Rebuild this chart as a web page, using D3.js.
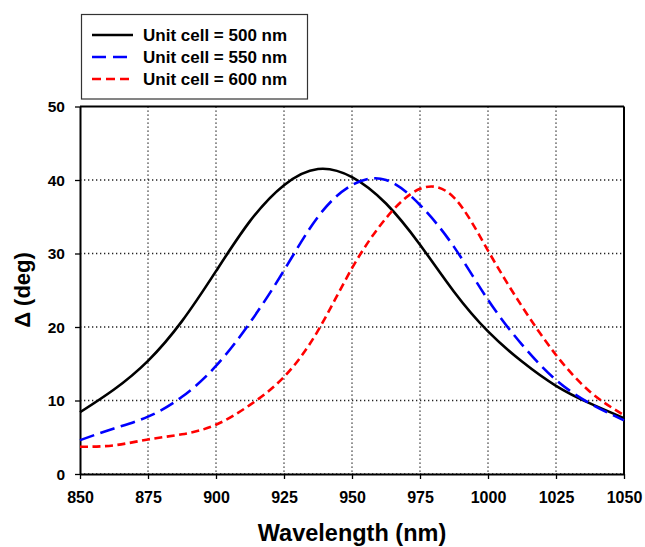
<!DOCTYPE html>
<html><head><meta charset="utf-8">
<script src="https://cdn.jsdelivr.net/npm/d3@7"></script>
<style>
body{margin:0;background:#fff;}
svg{display:block;font-family:"Liberation Sans",Arial,sans-serif;}
</style></head>
<body>
<svg id="chart" width="645" height="547"></svg>
<script>
// ---- data ----
const wavelengths = [850, 862.5, 875, 887.5, 900, 912.5, 925, 937.5, 950, 962.5, 975, 987.5, 1000, 1012.5, 1025, 1037.5, 1050];
const delta500 = [8.4, 11.5, 15.4, 20.8, 27.6, 34.4, 39.3, 41.5, 40.4, 36.8, 31.2, 24.8, 19.4, 15.3, 12.0, 9.6, 7.6];
const delta550 = [4.6, 6.2, 7.8, 10.5, 14.7, 20.6, 27.7, 35.0, 39.3, 40.0, 36.6, 30.9, 23.7, 17.6, 12.8, 9.6, 7.3];
const delta600 = [3.7, 3.9, 4.7, 5.4, 6.7, 9.4, 13.2, 19.5, 28.0, 34.8, 38.8, 37.6, 30.4, 22.8, 16.2, 11.2, 8.0];
const seriesNames = ["Unit cell = 500 nm", "Unit cell = 550 nm", "Unit cell = 600 nm"];
const xTicks = [850, 875, 900, 925, 950, 975, 1000, 1025, 1050];
const yTicks = [0, 10, 20, 30, 40, 50];

// ---- layout ----
const svg = d3.select("#chart");
const L = 80, R = 624, T = 106.5, B = 474;
const x = d3.scaleLinear().domain([850, 1050]).range([L, R]);
const y = d3.scaleLinear().domain([0, 50]).range([B, T]);

// grid
const grid = svg.append("g").attr("stroke", "#222").attr("stroke-width", 1.3).attr("stroke-dasharray", "1.3,2.7");
grid.selectAll(".gx").data(xTicks.slice(1, -1)).join("line")
  .attr("x1", d => x(d)).attr("x2", d => x(d)).attr("y1", T).attr("y2", B);
grid.selectAll(".gy").data(yTicks.slice(0, -1)).join("line")
  .attr("x1", L).attr("x2", R).attr("y1", d => y(d)).attr("y2", d => y(d));

// frame top/right
svg.append("line").attr("x1", L).attr("x2", R).attr("y1", T).attr("y2", T).attr("stroke", "#000").attr("stroke-width", 2);
svg.append("line").attr("x1", R).attr("x2", R).attr("y1", T).attr("y2", B).attr("stroke", "#000").attr("stroke-width", 2);

// axes
const xAxis = svg.append("g").attr("transform", `translate(0,${B})`)
  .call(d3.axisBottom(x).tickValues(xTicks).tickFormat(d3.format("d")).tickSize(5).tickPadding(13).tickSizeOuter(0));
const yAxis = svg.append("g").attr("transform", `translate(${L},0)`)
  .call(d3.axisLeft(y).tickValues(yTicks).tickFormat(d3.format("d")).tickSize(5).tickPadding(10).tickSizeOuter(0));
[xAxis, yAxis].forEach(a => {
  a.select(".domain").attr("stroke", "#000").attr("stroke-width", 2);
  a.selectAll(".tick line").attr("stroke", "#000").attr("stroke-width", 1.3);
  a.selectAll("text").attr("font-family", "Liberation Sans, Arial, sans-serif")
    .attr("font-weight", "bold").attr("fill", "#000");
});
xAxis.selectAll("text").attr("font-size", 16);
yAxis.selectAll("text").attr("font-size", 15.5).attr("dy", "0.34em");

// axis titles
svg.append("text").attr("x", (L + R) / 2).attr("y", 541).attr("text-anchor", "middle")
  .attr("font-size", 23.5).attr("font-weight", "bold").text("Wavelength (nm)");
svg.append("text").attr("transform", "translate(30,290) rotate(-90)").attr("text-anchor", "middle")
  .attr("font-size", 22).attr("font-weight", "bold").text("Δ (deg)");

// lines
const series = [
  {ys: delta500, color: "#000", dash: null},
  {ys: delta550, color: "#0000ff", dash: "15,6.5"},
  {ys: delta600, color: "#ff0000", dash: "8,4.5"}
];
const line = d3.line().x(d => x(d[0])).y(d => y(d[1])).curve(d3.curveNatural);
series.forEach(s => {
  svg.append("path").datum(wavelengths.map((v, i) => [v, s.ys[i]]))
    .attr("d", line).attr("fill", "none").attr("stroke", s.color)
    .attr("stroke-width", 2.6).attr("stroke-dasharray", s.dash);
});

// legend
const lg = svg.append("g");
lg.append("rect").attr("x", 81.5).attr("y", 14.5).attr("width", 226).attr("height", 84.5)
  .attr("fill", "#fff").attr("stroke", "#333").attr("stroke-width", 1.2);
const legendDash = [null, "14,7", "9,5"];
series.forEach((s, i) => {
  const yy = 35 + i * 22;
  lg.append("line").attr("x1", 92).attr("x2", 133).attr("y1", yy).attr("y2", yy)
    .attr("stroke", s.color).attr("stroke-width", 2.6).attr("stroke-dasharray", legendDash[i]);
  lg.append("text").attr("x", 143).attr("y", yy).attr("dy", "0.36em")
    .attr("font-size", 17).attr("font-weight", "bold").text(seriesNames[i]);
});
</script>
</body></html>
